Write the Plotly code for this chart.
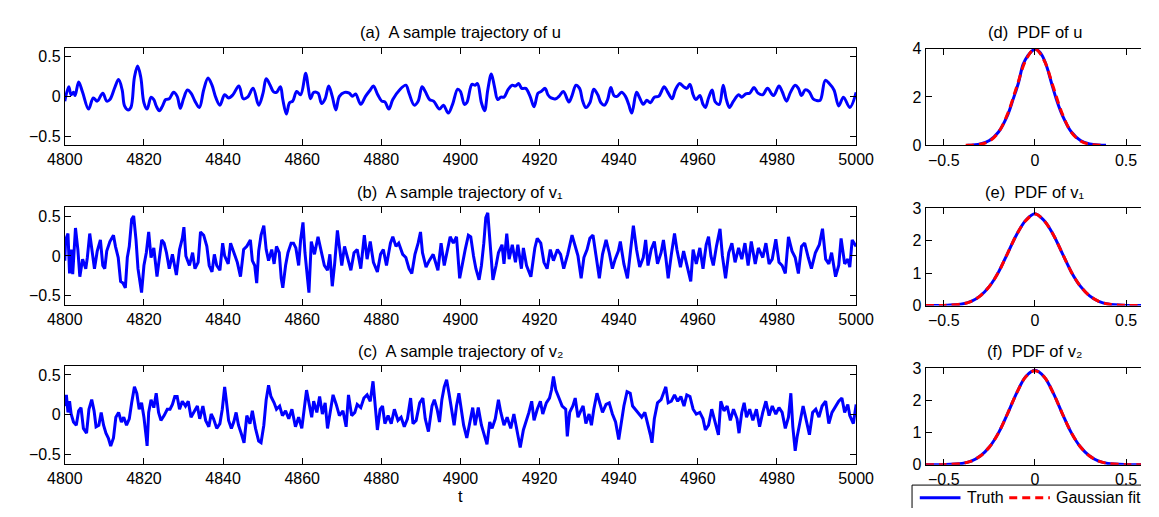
import plotly.graph_objects as go

# ---------------- data ----------------
u_t = [4800.0, 4801.0, 4801.6, 4802.2, 4802.6, 4803.5, 4804.5, 4806.0, 4807.2, 4808.2,
       4809.6, 4810.6, 4811.4, 4812.7, 4813.6, 4814.5, 4815.1, 4816.0, 4816.7, 4817.6,
       4818.4, 4819.2, 4820.0, 4820.8, 4821.8, 4822.5, 4823.1, 4823.9, 4824.7, 4825.5,
       4826.4, 4827.5, 4828.4, 4829.2, 4830.0, 4831.0, 4831.9, 4832.9, 4834.0, 4835.1,
       4836.2, 4837.2, 4838.2, 4839.2, 4840.4, 4841.4, 4842.5, 4844.0, 4845.1, 4846.2,
       4847.6, 4849.0, 4850.1, 4850.9, 4851.9, 4852.7, 4853.5, 4854.5, 4855.1, 4856.0,
       4856.8, 4857.6, 4858.6, 4859.6, 4860.9, 4861.5, 4862.1, 4862.9, 4864.0, 4864.9,
       4865.8, 4866.7, 4867.6, 4868.5, 4869.4, 4870.7, 4871.9, 4872.7, 4873.5, 4874.8,
       4876.0, 4877.2, 4878.0, 4879.1, 4880.1, 4880.9, 4881.9, 4882.9, 4884.6, 4886.2,
       4887.0, 4888.3, 4889.3, 4890.3, 4891.1, 4892.2, 4893.2, 4894.7, 4895.7, 4896.9,
       4898.0, 4899.3, 4900.0, 4901.0, 4901.6, 4902.9, 4903.7, 4904.3, 4905.3, 4906.1,
       4906.9, 4907.8, 4908.6, 4909.4, 4910.2, 4911.0, 4912.1, 4913.1, 4913.9, 4914.7,
       4915.5, 4916.5, 4917.6, 4918.6, 4919.6, 4920.4, 4921.4, 4922.1, 4922.9, 4924.1,
       4924.9, 4926.0, 4927.4, 4928.2, 4929.2, 4930.1, 4930.9, 4931.7, 4932.7, 4933.7,
       4934.7, 4935.5, 4936.4, 4937.2, 4938.0, 4938.8, 4939.6, 4940.7, 4941.7, 4942.5,
       4943.3, 4944.5, 4945.3, 4946.2, 4947.1, 4948.0, 4949.0, 4950.1, 4951.5, 4952.3,
       4953.5, 4954.3, 4955.4, 4956.4, 4957.2, 4958.0, 4958.8, 4959.5, 4960.5, 4961.3,
       4961.9, 4962.7, 4963.6, 4964.4, 4965.4, 4966.4, 4967.2, 4968.0, 4969.0, 4970.3,
       4971.1, 4972.1, 4973.1, 4974.2, 4975.2, 4976.4, 4977.6, 4979.1, 4980.5, 4981.3,
       4982.4, 4983.4, 4984.6, 4985.4, 4986.2, 4987.1, 4988.1, 4989.1, 4989.9, 4990.9,
       4992.2, 4993.2, 4994.4, 4995.6, 4996.8, 4998.4, 5000.0]
u_val = [-0.06, 0.12, 0.02, 0.05, 0.01, 0.18, 0.05, -0.16, -0.02, -0.06,
         0.04, -0.06, -0.04, 0.12, 0.21, 0.08, -0.12, -0.17, -0.14, 0.24,
         0.38, 0.24, -0.08, -0.16, -0.01, -0.04, -0.12, -0.18, -0.12, -0.04,
         -0.03, 0.05, 0.00, -0.15, -0.03, 0.08, 0.04, -0.06, -0.14, 0.08,
         0.23, 0.14, -0.02, -0.11, 0.02, -0.02, 0.02, 0.13, -0.03, -0.01,
         0.10, -0.11, 0.04, 0.22, 0.14, 0.06, 0.05, 0.12, -0.04, -0.22,
         -0.08, -0.06, 0.06, 0.02, 0.29, 0.12, -0.03, 0.05, 0.04, -0.09,
         -0.03, 0.13, 0.00, -0.17, 0.00, 0.05, 0.04, 0.00, 0.03, -0.10,
         0.00, 0.08, 0.13, 0.02, -0.06, -0.07, -0.16, -0.04, 0.08, 0.14,
         0.04, -0.11, -0.06, 0.12, 0.06, -0.04, -0.06, -0.16, -0.11, -0.21,
         -0.10, 0.09, 0.06, -0.10, -0.08, 0.15, 0.14, 0.16, -0.08, -0.18,
         0.08, 0.28, 0.12, -0.04, -0.01, -0.01, 0.09, 0.14, 0.13, 0.16,
         0.10, 0.10, 0.00, -0.13, 0.04, 0.06, 0.10, 0.02, -0.02, -0.03,
         0.00, 0.06, -0.07, 0.01, 0.14, 0.10, -0.06, -0.14, -0.08, 0.09,
         0.02, -0.08, -0.11, -0.04, 0.11, 0.01, 0.00, 0.05, 0.00, -0.10,
         -0.21, 0.05, -0.02, -0.10, -0.05, -0.08, -0.01, 0.00, 0.12, 0.06,
         -0.03, 0.08, 0.16, 0.12, 0.10, 0.15, 0.02, -0.04, 0.01, -0.10,
         -0.14, -0.02, 0.08, -0.07, -0.10, 0.14, -0.04, -0.14, -0.06, 0.02,
         -0.01, 0.03, 0.04, 0.11, 0.04, 0.02, 0.10, 0.01, 0.13, 0.06,
         -0.06, 0.05, 0.14, 0.10, 0.01, 0.08, 0.06, -0.03, -0.05, -0.05,
         0.20, 0.16, 0.08, -0.12, -0.01, -0.14, 0.05]

v1_t = [4800.0, 4800.2, 4800.8, 4801.2, 4801.6, 4802.0, 4802.7, 4803.3, 4803.8, 4804.5,
        4805.3, 4805.7, 4806.3, 4806.8, 4807.5, 4808.2, 4809.0, 4809.6, 4810.1, 4810.6,
        4811.4, 4812.3, 4812.8, 4813.5, 4814.1, 4814.7, 4815.3, 4815.8, 4816.3, 4816.9,
        4817.4, 4818.0, 4818.5, 4819.4, 4820.0, 4820.6, 4821.2, 4821.8, 4822.5, 4823.3,
        4823.9, 4824.5, 4825.1, 4825.7, 4826.4, 4827.2, 4828.2, 4829.0, 4829.7, 4830.1,
        4830.6, 4831.5, 4832.3, 4832.9, 4833.7, 4834.3, 4835.1, 4835.9, 4836.5, 4837.2,
        4837.8, 4838.4, 4839.2, 4839.9, 4840.4, 4841.3, 4841.9, 4842.7, 4843.6, 4844.4,
        4845.2, 4846.0, 4846.9, 4847.4, 4848.0, 4848.5, 4849.0, 4849.6, 4850.3, 4850.9,
        4851.5, 4852.3, 4852.9, 4853.5, 4854.2, 4854.7, 4855.1, 4855.8, 4856.4, 4857.2,
        4857.8, 4858.4, 4859.1, 4859.6, 4860.2, 4860.7, 4861.3, 4861.7, 4862.3, 4863.1,
        4864.0, 4864.8, 4865.6, 4866.4, 4867.0, 4867.6, 4868.2, 4868.9, 4869.4, 4870.0,
        4870.7, 4871.5, 4872.3, 4873.1, 4873.9, 4874.8, 4875.7, 4876.4, 4877.2, 4878.0,
        4879.0, 4879.8, 4880.5, 4881.3, 4882.3, 4882.9, 4883.7, 4884.4, 4885.4, 4886.2,
        4887.0, 4887.7, 4888.5, 4889.3, 4889.9, 4890.4, 4891.3, 4892.1, 4893.1, 4894.3,
        4895.1, 4895.9, 4896.6, 4897.4, 4898.2, 4899.0, 4899.8, 4900.7, 4901.2, 4902.0,
        4902.6, 4903.3, 4903.9, 4904.7, 4905.3, 4905.9, 4906.4, 4906.9, 4907.5, 4908.2,
        4909.0, 4909.6, 4910.5, 4911.0, 4911.7, 4912.3, 4913.1, 4913.9, 4914.5, 4915.4,
        4915.9, 4916.7, 4917.8, 4918.8, 4919.4, 4920.3, 4921.1, 4921.9, 4922.7, 4923.5,
        4924.5, 4925.3, 4926.1, 4927.1, 4928.2, 4929.0, 4929.7, 4930.5, 4931.2, 4932.0,
        4932.7, 4933.5, 4934.2, 4935.1, 4935.9, 4936.8, 4937.6, 4938.4, 4939.1, 4939.9,
        4940.4, 4941.3, 4942.2, 4943.1, 4943.7, 4944.5, 4945.3, 4946.2, 4946.8, 4947.4,
        4948.2, 4949.0, 4949.8, 4950.7, 4951.3, 4951.9, 4952.5, 4953.3, 4954.1, 4954.7,
        4955.6, 4956.4, 4957.2, 4958.2, 4958.8, 4959.6, 4960.5, 4961.3, 4962.1, 4962.7,
        4963.3, 4963.9, 4964.7, 4965.6, 4966.2, 4967.0, 4967.8, 4968.6, 4969.4, 4970.3,
        4971.1, 4971.9, 4972.7, 4973.5, 4974.5, 4975.3, 4976.4, 4977.2, 4978.0, 4978.8,
        4979.7, 4980.5, 4981.3, 4982.1, 4982.9, 4983.8, 4984.6, 4985.4, 4986.2, 4987.0,
        4987.9, 4988.7, 4989.7, 4990.7, 4991.5, 4992.3, 4993.1, 4993.8, 4994.8, 4995.6,
        4996.2, 4997.1, 4997.9, 4998.4, 4999.0, 5000.0]
v1_val = [-0.06, 0.20, 0.28, -0.22, 0.08, -0.23, 0.35, 0.08, -0.26, -0.04,
          -0.16, -0.02, 0.28, 0.08, -0.16, 0.06, 0.20, -0.12, -0.16, 0.06,
          0.18, 0.26, 0.12, -0.02, -0.32, -0.34, -0.40, -0.02, 0.12, 0.46,
          0.50, 0.20, -0.16, -0.46, -0.12, 0.04, 0.30, -0.02, 0.10, -0.26,
          -0.04, 0.20, 0.16, 0.04, -0.16, 0.02, -0.24, 0.08, 0.22, 0.36,
          0.00, -0.12, 0.04, -0.16, -0.08, 0.30, 0.26, 0.12, -0.12, -0.20,
          0.02, -0.12, -0.18, 0.16, 0.00, -0.10, 0.16, 0.04, -0.08, -0.26,
          0.08, 0.12, 0.20, -0.06, -0.12, -0.34, 0.06, 0.26, 0.38, 0.08,
          -0.06, 0.08, -0.10, 0.12, 0.04, -0.28, -0.40, -0.12, 0.04, 0.16,
          0.16, 0.10, -0.12, 0.20, 0.42, 0.04, -0.28, -0.46, 0.18, 0.02,
          0.24, 0.06, -0.12, -0.18, 0.02, -0.38, -0.10, 0.32, 0.08, -0.12,
          0.12, -0.04, -0.18, 0.04, 0.08, -0.16, 0.26, -0.04, 0.18, -0.08,
          -0.20, 0.02, 0.08, -0.12, 0.16, 0.24, 0.12, 0.16, 0.02, -0.02,
          -0.16, -0.22, 0.02, 0.16, 0.30, 0.04, -0.14, -0.06, 0.02, -0.18,
          0.16, -0.12, 0.06, 0.24, 0.16, 0.24, -0.28, -0.02, 0.08, 0.26,
          0.24, 0.00, -0.16, -0.30, -0.12, 0.16, 0.48, 0.54, 0.16, -0.30,
          -0.12, 0.04, 0.14, -0.10, 0.28, -0.04, 0.14, -0.08, 0.14, -0.16,
          0.10, -0.12, -0.26, 0.10, 0.22, 0.16, -0.08, -0.16, 0.08, -0.06,
          0.08, 0.02, -0.16, 0.02, 0.26, 0.12, 0.00, -0.28, -0.02, 0.08,
          0.22, 0.26, 0.00, -0.28, 0.02, 0.20, 0.04, -0.16, -0.04, 0.06,
          0.18, -0.10, -0.28, 0.14, 0.38, 0.08, -0.14, -0.02, 0.20, -0.12,
          0.08, 0.18, -0.10, 0.04, 0.20, -0.02, -0.28, 0.02, 0.28, 0.08,
          -0.14, 0.06, -0.12, -0.32, 0.08, -0.10, 0.10, -0.16, 0.14, 0.24,
          0.00, -0.12, 0.12, 0.34, 0.00, -0.28, 0.04, 0.16, -0.08, 0.10,
          -0.04, 0.16, -0.12, 0.18, -0.10, 0.10, -0.02, 0.16, -0.10, -0.04,
          0.21, -0.08, -0.12, -0.22, 0.24, 0.06, -0.02, -0.22, 0.12, 0.16,
          -0.02, -0.16, 0.04, 0.14, 0.34, -0.04, -0.10, 0.04, -0.26, -0.12,
          0.22, -0.10, -0.04, -0.14, 0.20, 0.12]

v2_t = [4800.0, 4800.4, 4800.8, 4801.2, 4801.6, 4802.2, 4802.9, 4803.5, 4804.1, 4804.7,
        4805.5, 4806.1, 4806.8, 4807.4, 4807.9, 4808.6, 4809.2, 4809.8, 4810.4, 4811.0,
        4811.6, 4812.3, 4812.9, 4813.6, 4814.3, 4814.9, 4815.6, 4816.3, 4816.9, 4817.6,
        4818.2, 4818.8, 4819.4, 4820.0, 4820.6, 4820.8, 4821.2, 4821.8, 4822.5, 4823.1,
        4823.7, 4824.3, 4825.1, 4825.9, 4826.6, 4827.2, 4827.8, 4828.4, 4829.0, 4829.7,
        4830.5, 4831.2, 4831.9, 4832.7, 4833.5, 4834.1, 4834.9, 4835.6, 4836.4, 4837.0,
        4837.6, 4838.4, 4839.2, 4839.8, 4840.4, 4840.8, 4841.4, 4842.1, 4842.7, 4843.3,
        4843.9, 4844.7, 4845.3, 4846.0, 4846.8, 4847.4, 4848.2, 4849.0, 4849.6, 4850.3,
        4850.9, 4851.5, 4852.1, 4852.9, 4853.5, 4854.3, 4855.0, 4855.8, 4856.6, 4857.4,
        4858.3, 4859.1, 4859.9, 4860.5, 4861.1, 4861.7, 4862.4, 4862.9, 4863.7, 4864.4,
        4865.1, 4865.8, 4866.4, 4867.2, 4867.8, 4868.6, 4869.4, 4870.3, 4871.1, 4871.7,
        4872.5, 4873.3, 4873.9, 4874.8, 4875.6, 4876.4, 4877.2, 4877.9, 4878.4, 4879.0,
        4879.7, 4880.3, 4880.9, 4881.7, 4882.5, 4883.3, 4884.2, 4885.0, 4885.8, 4886.6,
        4887.4, 4888.0, 4888.8, 4889.7, 4890.5, 4891.1, 4891.9, 4892.8, 4893.4, 4894.1,
        4894.7, 4895.3, 4895.9, 4896.5, 4897.1, 4897.7, 4898.4, 4899.0, 4899.6, 4900.2,
        4900.8, 4901.6, 4902.5, 4903.1, 4903.7, 4904.5, 4905.3, 4906.1, 4906.7, 4907.4,
        4908.0, 4908.8, 4909.6, 4910.2, 4911.0, 4911.8, 4912.7, 4913.5, 4914.3, 4915.1,
        4915.9, 4916.6, 4917.3, 4918.0, 4918.6, 4919.4, 4920.2, 4920.8, 4921.7, 4922.5,
        4923.0, 4923.5, 4924.1, 4924.9, 4925.7, 4926.6, 4927.0, 4927.6, 4928.4, 4929.0,
        4929.7, 4930.4, 4931.0, 4931.7, 4932.5, 4933.1, 4933.7, 4934.5, 4935.1, 4935.9,
        4936.8, 4937.6, 4938.4, 4939.2, 4940.0, 4940.7, 4941.3, 4942.1, 4942.9, 4943.5,
        4944.1, 4944.9, 4945.8, 4946.6, 4947.4, 4948.0, 4948.4, 4949.0, 4949.8, 4950.7,
        4951.3, 4951.9, 4952.5, 4953.3, 4954.1, 4954.9, 4955.7, 4956.5, 4957.2, 4958.0,
        4958.8, 4959.6, 4960.5, 4961.3, 4961.9, 4962.7, 4963.5, 4964.4, 4965.2, 4965.8,
        4966.6, 4967.4, 4968.2, 4969.0, 4969.9, 4970.4, 4971.1, 4971.7, 4972.3, 4973.1,
        4973.9, 4974.8, 4975.6, 4976.4, 4977.2, 4978.0, 4978.8, 4979.7, 4980.5, 4981.3,
        4982.1, 4982.9, 4983.5, 4984.0, 4984.6, 4985.1, 4985.8, 4986.6, 4987.4, 4988.2,
        4989.0, 4989.8, 4990.6, 4991.4, 4992.3, 4993.1, 4993.9, 4994.7, 4995.6, 4996.4,
        4997.1, 4997.9, 4998.4, 4999.3, 5000.0]
v2_val = [0.11, 0.25, 0.03, 0.17, 0.01, -0.09, -0.13, 0.05, 0.09, -0.17,
          -0.23, 0.07, 0.19, 0.05, -0.15, -0.13, 0.03, -0.13, -0.23, -0.29,
          -0.39, -0.29, -0.03, 0.03, -0.09, -0.03, -0.13, -0.05, 0.15, 0.35,
          0.27, 0.07, 0.15, -0.03, -0.29, -0.39, 0.03, 0.19, 0.09, 0.27,
          0.03, -0.07, -0.01, 0.07, 0.07, 0.13, 0.23, 0.23, 0.07, 0.17,
          0.11, 0.17, -0.03, 0.05, 0.11, -0.05, 0.11, -0.07, -0.15, 0.01,
          -0.05, -0.17, -0.11, 0.07, 0.35, 0.19, -0.07, -0.17, -0.09, 0.03,
          -0.13, -0.25, -0.35, -0.01, -0.11, 0.05, -0.17, -0.33, -0.35, -0.13,
          0.19, 0.37, 0.23, 0.15, 0.07, 0.11, -0.01, 0.05, -0.05, 0.07,
          -0.15, -0.03, -0.17, 0.07, 0.31, 0.15, -0.03, 0.17, 0.03, 0.23,
          0.01, 0.15, -0.17, 0.07, 0.25, 0.13, -0.01, 0.05, -0.15, 0.25,
          -0.01, 0.03, 0.13, 0.09, 0.21, 0.25, 0.17, 0.42, 0.09, -0.19,
          0.07, 0.11, -0.11, -0.01, -0.11, 0.07, -0.07, -0.03, -0.15, -0.05,
          0.21, -0.11, -0.07, 0.15, 0.21, -0.05, -0.21, 0.11, 0.19, 0.07,
          -0.09, 0.19, 0.35, 0.44, 0.27, 0.07, -0.13, 0.11, 0.27, 0.07,
          -0.13, -0.29, -0.03, 0.09, -0.13, 0.09, -0.13, -0.25, -0.37, -0.09,
          -0.17, -0.05, 0.19, 0.03, -0.13, -0.03, -0.17, 0.01, -0.21, -0.41,
          -0.19, -0.09, 0.03, 0.17, -0.07, 0.07, 0.17, 0.01, 0.15, 0.21,
          0.31, 0.48, 0.31, 0.21, 0.11, 0.07, -0.27, 0.03, 0.11, 0.21,
          -0.03, 0.05, 0.11, -0.11, 0.01, -0.13, 0.07, 0.27, 0.17, 0.03,
          0.13, 0.15, 0.01, -0.09, -0.31, -0.09, 0.11, 0.29, 0.27, 0.11,
          0.07, 0.03, -0.03, 0.03, -0.11, -0.25, -0.35, -0.05, 0.15, 0.19,
          0.27, 0.35, 0.15, 0.17, 0.25, 0.17, 0.23, 0.11, 0.25, 0.23,
          0.07, 0.01, 0.03, -0.05, -0.19, -0.13, 0.07, -0.11, -0.25, 0.17,
          0.05, 0.11, -0.07, 0.07, -0.05, -0.23, 0.03, 0.15, -0.03, 0.07,
          -0.07, 0.07, -0.15, 0.03, 0.17, -0.01, 0.11, 0.01, 0.09, 0.03,
          -0.17, -0.03, 0.27, -0.15, -0.45, -0.27, -0.11, 0.11, -0.07, -0.25,
          0.03, 0.07, -0.03, 0.11, 0.17, -0.11, 0.03, 0.09, 0.17, 0.21,
          0.03, 0.13, -0.01, -0.11, 0.13]

# PDFs (truth and Gaussian fit)
pdf_u_x = [-0.37, -0.30, -0.25, -0.20, -0.15, -0.12, -0.09, -0.065, -0.04, -0.02, 0.0,
           0.02, 0.04, 0.065, 0.09, 0.12, 0.15, 0.20, 0.25, 0.30, 0.35, 0.39]
pdf_u_truth = [0.0, 0.06, 0.20, 0.55, 1.25, 1.90, 2.60, 3.35, 3.70, 3.88, 3.97,
               3.90, 3.70, 3.25, 2.60, 1.85, 1.25, 0.55, 0.20, 0.06, 0.01, 0.0]
fit_u_x = [-0.38, -0.30, -0.25, -0.20, -0.15, -0.10, -0.05, 0.0, 0.05, 0.10, 0.15,
           0.20, 0.25, 0.30, 0.36]
fit_u_y = [0.003, 0.044, 0.175, 0.54, 1.30, 2.42, 3.52, 3.99, 3.52, 2.42, 1.30,
           0.54, 0.175, 0.044, 0.006]

pdf_v_x = [-0.6, -0.5, -0.4, -0.35, -0.3, -0.25, -0.2, -0.15, -0.1, -0.05, 0.0,
           0.05, 0.1, 0.15, 0.2, 0.25, 0.3, 0.35, 0.4, 0.5, 0.6]
pdf_v1_truth = [0.0, 0.005, 0.05, 0.13, 0.30, 0.59, 1.03, 1.61, 2.19, 2.63, 2.83,
                2.62, 2.19, 1.61, 1.03, 0.59, 0.30, 0.13, 0.05, 0.005, 0.0]
fit_v1_y = [0.0, 0.005, 0.05, 0.13, 0.30, 0.59, 1.03, 1.61, 2.19, 2.62, 2.82,
            2.62, 2.19, 1.61, 1.03, 0.59, 0.30, 0.13, 0.05, 0.005, 0.0]
pdf_v2_truth = [0.0, 0.004, 0.04, 0.11, 0.27, 0.55, 0.99, 1.59, 2.23, 2.74, 2.93,
                2.73, 2.23, 1.59, 0.99, 0.55, 0.27, 0.11, 0.04, 0.004, 0.0]
fit_v2_y = [0.0, 0.004, 0.04, 0.11, 0.27, 0.55, 0.99, 1.59, 2.23, 2.73, 2.92,
            2.73, 2.23, 1.59, 0.99, 0.55, 0.27, 0.11, 0.04, 0.004, 0.0]

assert len(u_t) == len(u_val)
assert len(v1_t) == len(v1_val)
assert len(v2_t) == len(v2_val)

left_titles = ["(a)  A sample trajectory of u",
               "(b)  A sample trajectory of v\u2081",
               "(c)  A sample trajectory of v\u2082"]
right_titles = ["(d)  PDF of u", "(e)  PDF of v\u2081", "(f)  PDF of v\u2082"]
legend_labels = ["Truth", "Gaussian fit"]

# ---------------- layout helpers ----------------
W, H = 1159, 517
FONT = "Liberation Sans, Arial, Helvetica, DejaVu Sans, sans-serif"
BLUE = "rgb(0,0,255)"
RED = "rgb(255,0,0)"
DASH = "8px,5px"


def fx(p):
    return p / W


def fy(p):
    return 1 - p / H


fig = go.Figure()

left_rows = [(41, 141.7), (206, 306.7), (370.3, 471)]
right_rows = [(42, 142), (207, 307.7), (372.3, 472.3)]
LX0, LX1 = 48.3, 865
RX0 = 936.7
R_PER_PX = 1.2 / (1162.4 - 936.7)
R_MAX = -0.6 + (W - RX0) * R_PER_PX

series = [(u_t, u_val, "spline"), (v1_t, v1_val, "linear"), (v2_t, v2_val, "linear")]
for i, (tt, vv, shape) in enumerate(series):
    n = i + 1
    fig.add_trace(go.Scatter(x=tt, y=vv, mode="lines", showlegend=False,
                             line=dict(color=BLUE, width=3, shape=shape),
                             xaxis=f"x{n}", yaxis=f"y{n}"))

pdfs = [(pdf_u_x, pdf_u_truth, fit_u_x, fit_u_y),
        (pdf_v_x, pdf_v1_truth, pdf_v_x, fit_v1_y),
        (pdf_v_x, pdf_v2_truth, pdf_v_x, fit_v2_y)]
for i, (tx, ty, gx, gy) in enumerate(pdfs):
    n = i + 4
    fig.add_trace(go.Scatter(x=tx, y=ty, mode="lines", name=legend_labels[0], showlegend=False,
                             line=dict(color=BLUE, width=3, shape="spline"),
                             xaxis=f"x{n}", yaxis=f"y{n}"))
    fig.add_trace(go.Scatter(x=gx, y=gy, mode="lines", name=legend_labels[1], showlegend=False,
                             line=dict(color=RED, width=3, shape="spline", dash=DASH),
                             xaxis=f"x{n}", yaxis=f"y{n}"))

axis_common = dict(showgrid=False, zeroline=False, showline=True, linecolor="black",
                   linewidth=1, ticks="inside", ticklen=6, tickwidth=1, tickcolor="black",
                   tickfont=dict(family=FONT, size=16, color="black"), fixedrange=True)

layout = {}
for i, (top, bot) in enumerate(left_rows):
    n = i + 1
    sfx = "" if n == 1 else str(n)
    layout[f"xaxis{sfx}"] = dict(axis_common, domain=[fx(LX0), fx(LX1)], range=[4800, 5000],
                                 tickvals=list(range(4800, 5001, 20)), mirror="ticks",
                                 anchor=f"y{n}")
    layout[f"yaxis{sfx}"] = dict(axis_common, domain=[fy(bot), fy(top)], range=[-0.61, 0.61],
                                 tickvals=[-0.5, 0, 0.5], mirror="ticks", anchor=f"x{n}")

ymax = [4, 3, 3]
ytv = [[0, 2, 4], [0, 1, 2, 3], [0, 1, 2, 3]]
for i, (top, bot) in enumerate(right_rows):
    n = i + 4
    layout[f"xaxis{n}"] = dict(axis_common, domain=[fx(RX0), 1.0], range=[-0.6, R_MAX],
                               tickvals=[-0.5, 0, 0.5], mirror="ticks", anchor=f"y{n}")
    layout[f"yaxis{n}"] = dict(axis_common, domain=[fy(bot), fy(top)], range=[0, ymax[i]],
                               tickvals=ytv[i], mirror=False, anchor=f"x{n}")

annotations = []
left_cx = (LX0 + LX1) / 2
right_cx = RX0 + 0.6 / R_PER_PX
title_y = [25, 190, 355]
tfont = dict(family=FONT, size=16.5, color="black")
for i in range(3):
    annotations.append(dict(text=left_titles[i], x=fx(left_cx), y=fy(title_y[i]),
                            xref="paper", yref="paper", xanchor="center", yanchor="middle",
                            showarrow=False, font=tfont))
    annotations.append(dict(text=right_titles[i], x=fx(right_cx), y=fy(title_y[i]),
                            xref="paper", yref="paper", xanchor="center", yanchor="middle",
                            showarrow=False, font=tfont))
annotations.append(dict(text="t", x=fx(left_cx), y=fy(505), xref="paper", yref="paper",
                        xanchor="center", yanchor="middle", showarrow=False, font=tfont))

# legend box: only its top and left edges fall inside the picture, as in the reference
LEG_Y = 506.5
lfont = dict(family=FONT, size=16, color="black")
annotations.append(dict(text=legend_labels[0], x=fx(977.5), y=fy(LEG_Y), xref="paper",
                        yref="paper", xanchor="left", yanchor="middle", showarrow=False,
                        font=lfont))
annotations.append(dict(text=legend_labels[1], x=fx(1069.5), y=fy(LEG_Y), xref="paper",
                        yref="paper", xanchor="left", yanchor="middle", showarrow=False,
                        font=lfont))
shapes = [
    dict(type="line", xref="paper", yref="paper", x0=fx(922.7), x1=1.0,
         y0=fy(493.3), y1=fy(493.3), line=dict(color="black", width=1)),
    dict(type="line", xref="paper", yref="paper", x0=fx(922.7), x1=fx(922.7),
         y0=0.0, y1=fy(493.3), line=dict(color="black", width=1)),
    dict(type="line", xref="paper", yref="paper", x0=fx(930.7), x1=fx(972.7),
         y0=fy(LEG_Y), y1=fy(LEG_Y), line=dict(color=BLUE, width=3)),
    dict(type="line", xref="paper", yref="paper", x0=fx(1023), x1=fx(1065),
         y0=fy(LEG_Y), y1=fy(LEG_Y), line=dict(color=RED, width=3, dash=DASH)),
]

fig.update_layout(
    width=W, height=H, autosize=False,
    margin=dict(l=0, r=0, t=0, b=0, pad=0),
    paper_bgcolor="white", plot_bgcolor="white",
    font=dict(family=FONT, size=16, color="black"),
    annotations=annotations, shapes=shapes, showlegend=False,
    hovermode=False, dragmode=False,
    **layout,
)

fig.write_html("out.html", config={"staticPlot": True, "displayModeBar": False})
